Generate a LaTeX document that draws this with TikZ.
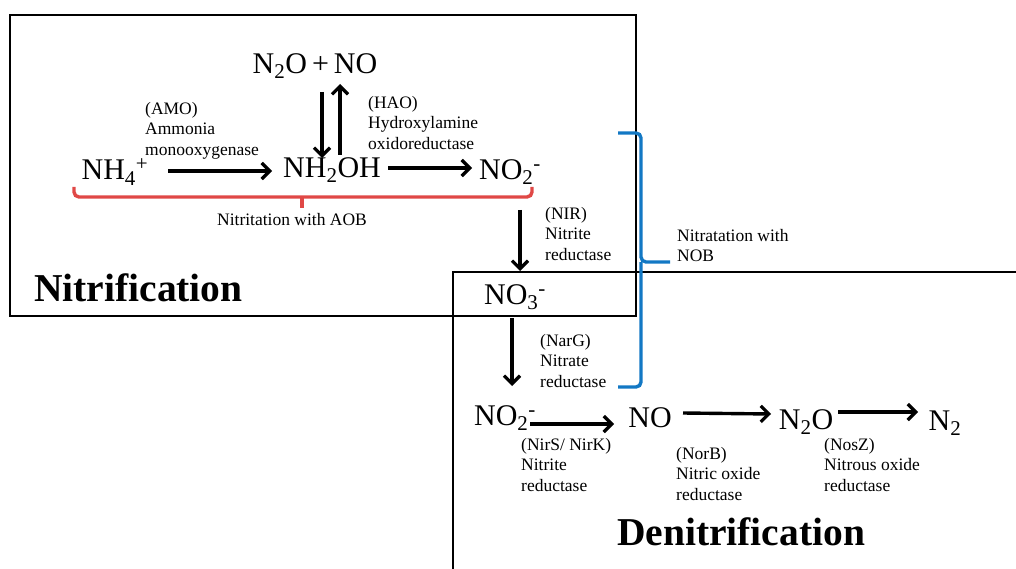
\documentclass[tikz,border=0pt]{standalone}
\usepackage{fontspec}
\setmainfont{Liberation Serif}
\usetikzlibrary{arrows.meta}
\definecolor{bracered}{RGB}{224,72,70}
\definecolor{braceblue}{RGB}{18,120,196}
\begin{document}
\begin{tikzpicture}[x=1pt,y=-1pt,
  chem/.style={inner sep=0pt,font=\fontsize{30}{34}\selectfont},
  enz/.style={inner sep=0pt,anchor=north west,align=left,font=\fontsize{17.5}{20.5}\selectfont},
  title/.style={inner sep=0pt,font=\fontsize{39.5}{44}\selectfont\bfseries},
  rx/.style={line width=3.4pt,-{Straight Barb[length=8pt,width=16pt,line width=3.2pt]}},
  frame/.style={line width=2.4pt},
  brace/.style={line width=3.4pt,rounded corners=5pt}]
\useasboundingbox (0,0) rectangle (1016,569);
% frames
\draw[frame] (10,15) rectangle (636,316);
\draw[frame] (1016,272) -- (453,272) -- (453,569);
% chemicals, nitrification
\node[chem] (n2ono) at (315,66) {N\textsubscript{2}O\,+\,NO};
\node[chem] (nh4) at (115,172) {NH\textsubscript{4}\textsuperscript{+}};
\node[chem] (nh2oh) at (332,170) {NH\textsubscript{2}OH};
\node[chem] (no2a) at (510,172) {NO\textsubscript{2}\textsuperscript{-}};
\node[chem] (no3) at (515,297) {NO\textsubscript{3}\textsuperscript{-}};
% chemicals, denitrification
\node[chem] (no2b) at (505,418) {NO\textsubscript{2}\textsuperscript{-}};
\node[chem] (no) at (650,418) {NO};
\node[chem] (n2o) at (806,422) {N\textsubscript{2}O};
\node[chem] (n2) at (945,423) {N\textsubscript{2}};
% coordinates for arrows
\coordinate (a1s) at (168,171); \coordinate (a1e) at (272,171);
\coordinate (a2s) at (388,168); \coordinate (a2e) at (472,168);
\coordinate (a3s) at (322,92);  \coordinate (a3e) at (322,158);
\coordinate (a4s) at (340,155); \coordinate (a4e) at (340,84);
\coordinate (a5s) at (520,210); \coordinate (a5e) at (520,271);
\coordinate (a6s) at (512,318); \coordinate (a6e) at (512,386);
\coordinate (a7s) at (530,424); \coordinate (a7e) at (614,424);
\coordinate (a8s) at (683,413); \coordinate (a8e) at (771,414);
\coordinate (a9s) at (838,412); \coordinate (a9e) at (918,412);
\draw[rx] (a1s) -- (a1e);
\draw[rx] (a2s) -- (a2e);
\draw[rx] (a3s) -- (a3e);
\draw[rx] (a4s) -- (a4e);
\draw[rx] (a5s) -- (a5e);
\draw[rx] (a6s) -- (a6e);
\draw[rx] (a7s) -- (a7e);
\draw[rx] (a8s) -- (a8e);
\draw[rx] (a9s) -- (a9e);
% enzyme labels
\node[enz] (amo) at (145,102) {(AMO)\\Ammonia\\monooxygenase};
\node[enz] (hao) at (368,96) {(HAO)\\Hydroxylamine\\oxidoreductase};
\node[enz] (nir) at (545,207) {(NIR)\\Nitrite\\reductase};
\node[enz] (narg) at (540,334) {(NarG)\\Nitrate\\reductase};
\node[enz] (nirs) at (521,438) {(NirS/ NirK)\\Nitrite\\reductase};
\node[enz] (norb) at (676,447) {(NorB)\\Nitric oxide\\reductase};
\node[enz] (nosz) at (824,438) {(NosZ)\\Nitrous oxide\\reductase};
% red brace
\draw[brace,bracered] (74,187) -- (74,197) -- (532,197) -- (532,187);
\draw[line width=3.4pt,bracered] (302,197) -- (302,208);
\node[enz,anchor=north] (aob) at (292,213) {Nitritation with AOB};
% blue brace
\draw[brace,braceblue] (618,133) -- (641,133) -- (641,262) -- (670,262);
\draw[brace,braceblue] (618,387) -- (641,387) -- (641,262);
\node[enz] (nob) at (677,229) {Nitratation with\\NOB};
% titles
\node[title,anchor=west] (nitr) at (34,288) {Nitrification};
\node[title] (denitr) at (741,532) {Denitrification};
\end{tikzpicture}
\end{document}
